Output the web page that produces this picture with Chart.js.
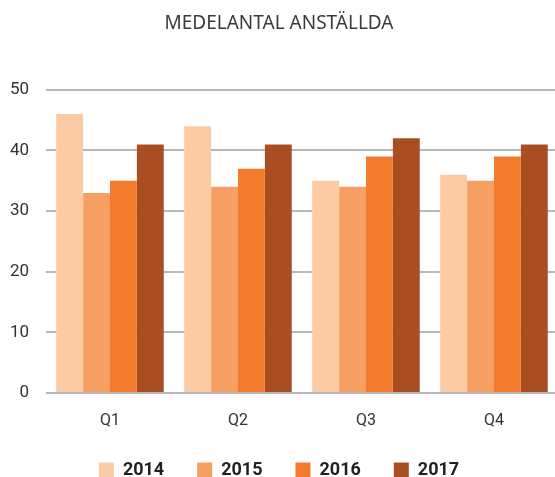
<!DOCTYPE html>
<html>
<head>
<meta charset="utf-8">
<script src="https://cdn.jsdelivr.net/npm/chart.js@4"></script>
<style>
  html, body { margin: 0; padding: 0; background: #fff; overflow: hidden; }
  .chart { width: 558px; height: 477px; }
</style>
</head>
<body>
<div class="chart" role="img" aria-label="Stapeldiagram över medelantal anställda per kvartal 2014-2017">
  <canvas id="chart"></canvas>
</div>
<script>
const quarters = ['Q1', 'Q2', 'Q3', 'Q4'];
const years = ['2014', '2015', '2016', '2017'];
const employees2014 = [46, 44, 35, 36];
const employees2015 = [33, 34, 34, 35];
const employees2016 = [35, 37, 39, 39];
const employees2017 = [41, 41, 42, 41];
const yearColors = ['#fbcba4', '#f69f63', '#f37b2d', '#a94e22'];

const seriesValues = [employees2014, employees2015, employees2016, employees2017];

const ctx = document.getElementById('chart').getContext('2d');

new Chart(ctx, {
  type: 'bar',
  data: {
    labels: quarters,
    datasets: years.map((year, i) => ({
      label: year,
      data: seriesValues[i],
      backgroundColor: yearColors[i],
      borderWidth: 0,
      categoryPercentage: 0.84,
      barPercentage: 1.0,
    })),
  },
  options: {
    responsive: true,
    maintainAspectRatio: false,
    animation: false,
    layout: {
      padding: 0,
    },
    plugins: {
      tooltip: { enabled: false },
      title: {
        display: true,
        text: 'MEDELANTAL ANSTÄLLDA',
        color: '#3a3a3a',
        font: { family: 'Noto Sans', size: 19, weight: 'normal' },
        padding: { top: 12, bottom: 55 },
      },
      legend: {
        position: 'bottom',
        maxHeight: 49,
        labels: {
          boxWidth: 15,
          boxHeight: 15,
          padding: 33,
          color: '#231f20',
          font: { family: 'Roboto', size: 18, weight: 'bold' },
        },
      },
    },
    scales: {
      x: {
        grid: { display: false, drawTicks: false },
        border: { display: false },
        ticks: {
          color: '#333',
          padding: 18,
          font: { family: 'Roboto', size: 16 },
        },
        afterFit: (scale) => {
          scale.height = 35;
        },
      },
      y: {
        min: 0,
        max: 50,
        border: { display: false },
        grid: {
          color: '#b8b8b8',
          lineWidth: 2,
          drawTicks: false,
        },
        ticks: {
          stepSize: 10,
          color: '#333',
          padding: 17,
          font: { family: 'Roboto', size: 17 },
        },
        afterFit: (scale) => {
          scale.width = 46;
        },
      },
    },
  },
});
</script>
</body>
</html>
